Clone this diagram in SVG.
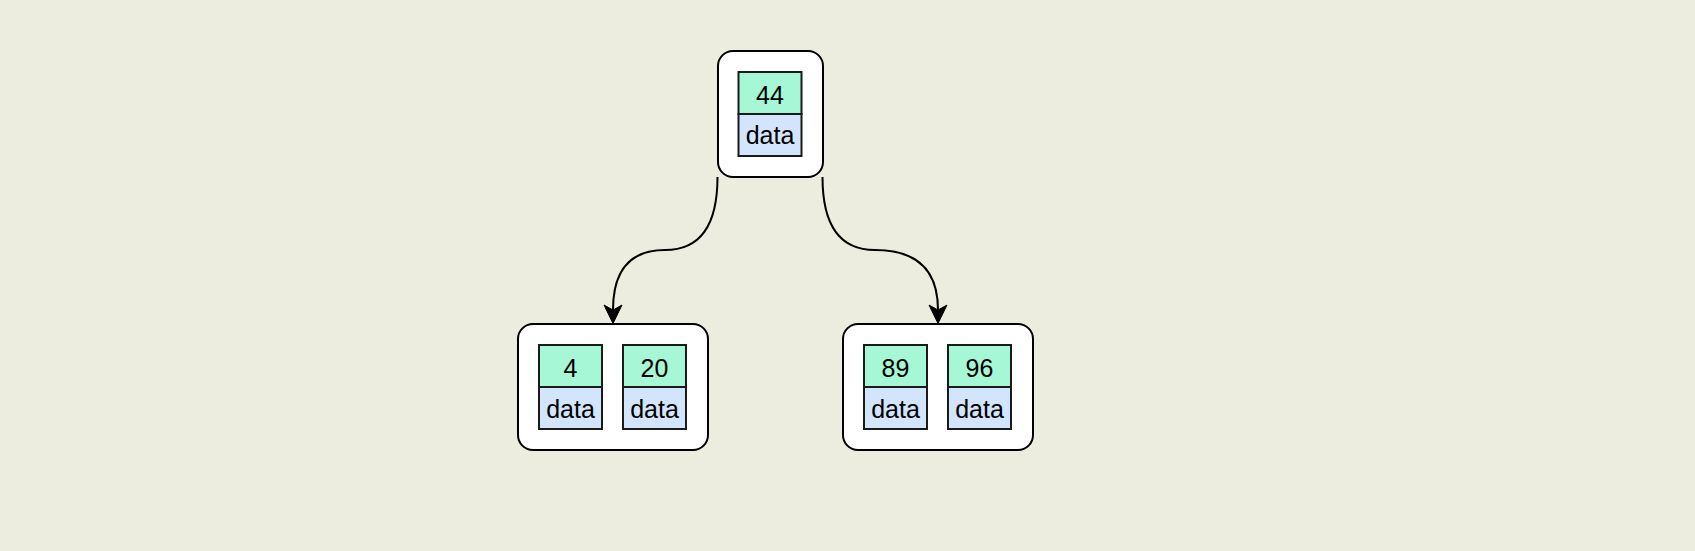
<svg xmlns="http://www.w3.org/2000/svg" width="1695" height="551" viewBox="0 0 1695 551">
<defs>
<style>
.box{fill:#ffffff;stroke:#000;stroke-width:2}
.k{fill:#a6f7d5;stroke:#1a1a1a;stroke-width:2}
.d{fill:#d2e5fc;stroke:#1a1a1a;stroke-width:2}
text{font-family:"Liberation Sans",Arial,sans-serif;font-size:25px;fill:#000;text-anchor:middle}
.edge{fill:none;stroke:#000;stroke-width:2;marker-end:url(#arr)}
</style>
<marker id="arr" markerUnits="userSpaceOnUse" markerWidth="22" markerHeight="22" refX="0" refY="0" orient="auto" viewBox="-7 -11 22 22">
<path d="M13.5 0 L-5 -9 L0 0 L-5 9 Z" fill="#000" stroke="#000" stroke-width="1"/>
</marker>
</defs>
<rect width="1695" height="551" fill="#ededdf"/>
<g id="connectors">
<path class="edge" d="M717.5 177 Q717.5 250 665 250 Q613 250 613 310"/>
<path class="edge" d="M822.5 177 Q822.5 250 875 250 Q938 250 938 310"/>
</g>
<g id="node-44">
<rect class="box" x="718" y="51" width="105" height="126" rx="15"/>
<rect class="k" x="738.5" y="72" width="63" height="42"/>
<rect class="d" x="738.5" y="114" width="63" height="42"/>
<text x="770" y="103.5">44</text>
<text x="770" y="143.5">data</text>
</g>
<g id="node-4-20">
<rect class="box" x="518" y="324" width="190" height="126" rx="15"/>
<rect class="k" x="539" y="345" width="63" height="42"/>
<rect class="d" x="539" y="387" width="63" height="42"/>
<rect class="k" x="623" y="345" width="63" height="42"/>
<rect class="d" x="623" y="387" width="63" height="42"/>
<text x="570.5" y="377">4</text>
<text x="570.5" y="417.5">data</text>
<text x="654.5" y="377">20</text>
<text x="654.5" y="417.5">data</text>
</g>
<g id="node-89-96">
<rect class="box" x="843" y="324" width="190" height="126" rx="15"/>
<rect class="k" x="864" y="345" width="63" height="42"/>
<rect class="d" x="864" y="387" width="63" height="42"/>
<rect class="k" x="948" y="345" width="63" height="42"/>
<rect class="d" x="948" y="387" width="63" height="42"/>
<text x="895.5" y="377">89</text>
<text x="895.5" y="417.5">data</text>
<text x="979.5" y="377">96</text>
<text x="979.5" y="417.5">data</text>
</g>
</svg>
